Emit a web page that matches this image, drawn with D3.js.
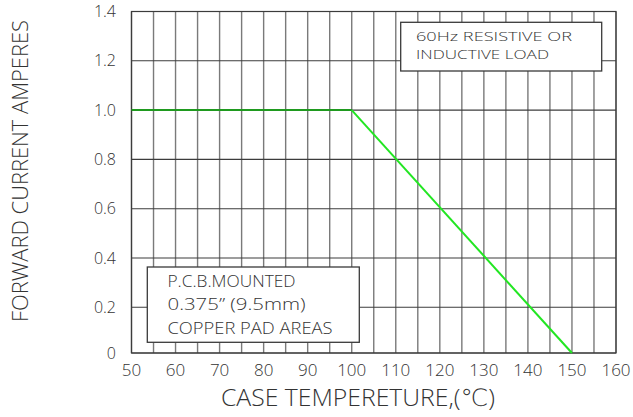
<!DOCTYPE html>
<html><head><meta charset="utf-8">
<script src="https://cdn.jsdelivr.net/npm/d3@7"></script>
<style>body{margin:0;background:#fff}svg{display:block}</style>
</head><body>
<svg id="c" width="633" height="417"></svg>
<script>
const xTicks = [50,60,70,80,90,100,110,120,130,140,150,160];
const xGrid = d3.range(50, 161, 5);
const yTicks = [0,0.2,0.4,0.6,0.8,1.0,1.2,1.4];
const yTickLabels = ["0","0.2","0.4","0.6","0.8","1.0","1.2","1.4"];
const curveTemp = [50, 100, 150];
const curveCurrent = [1.0, 1.0, 0];
const note1 = ["60Hz RESISTIVE OR","INDUCTIVE LOAD"];
const note2 = ["P.C.B.MOUNTED","0.375\u201D (9.5mm)","COPPER PAD AREAS"];
const xTitle = "CASE TEMPERETURE,(\u2103)";
const yTitle = "FORWARD CURRENT AMPERES";

const svg = d3.select("#c");
const x = d3.scaleLinear().domain([50,160]).range([131.5,616]);
const y = d3.scaleLinear().domain([0,0.2,1.4]).range([353,307.3,11.5]);
const font = "'Open Sans', 'DejaVu Sans', sans-serif";
const fw = 300;
const txt = "#333";

// vertical grid
svg.append("g").selectAll("line").data(xGrid).join("line")
  .attr("x1", d=>x(d)).attr("x2", d=>x(d)).attr("y1", y(1.4)).attr("y2", y(0))
  .attr("stroke", "#7a7a7a").attr("stroke-width", 1.4);
// horizontal grid
svg.append("g").selectAll("line").data(yTicks).join("line")
  .attr("x1", x(50)).attr("x2", x(160)).attr("y1", d=>y(d)).attr("y2", d=>y(d))
  .attr("stroke", "#3c3c3c").attr("stroke-width", 1.1);
// frame
svg.append("rect").attr("x", x(50)).attr("y", y(1.4))
  .attr("width", x(160)-x(50)).attr("height", y(0)-y(1.4))
  .attr("fill","none").attr("stroke","#3c3c3c").attr("stroke-width",1.2);

// curve
const pts = curveTemp.map((t,i)=>[t, curveCurrent[i]]);
const segColors = ["#1f9a1f", "#22e622"];
for (let i=0;i<pts.length-1;i++){
  svg.append("line")
    .attr("x1", x(pts[i][0])).attr("y1", y(pts[i][1]))
    .attr("x2", x(pts[i+1][0])).attr("y2", y(pts[i+1][1]))
    .attr("stroke", segColors[i]).attr("stroke-width", 2);
}

function T(sel, fs){
  return sel.attr("font-family",font).attr("font-weight",fw).attr("font-size",fs).attr("fill",txt);
}

// note boxes
function note(lines, bx, by, bw, bh, tx, ty, lh, fs, widths){
  svg.append("rect").attr("x",bx).attr("y",by).attr("width",bw).attr("height",bh)
    .attr("fill","#fff").attr("stroke","#3a3a3a").attr("stroke-width",1.3);
  lines.forEach((l,i)=>{
    T(svg.append("text").attr("x",tx).attr("y",ty+i*lh).text(l), fs)
      .attr("textLength", widths[i]).attr("lengthAdjust","spacingAndGlyphs");
  });
}
note(note1, 400.7, 22.3, 201, 48.7, 416, 40.5, 18.5, 13.5, [156, 133]);
note(note2, 147.3, 267, 212, 75.3, 167.5, 287, 23.3, 16, [128, 138, 165]);

// y tick labels
T(svg.append("g").selectAll("text").data(yTicks).join("text")
  .attr("x", 116).attr("y", d=>y(d)+5.5).attr("text-anchor","end")
  .text((d,i)=>yTickLabels[i]), 16);
// x tick labels
T(svg.append("g").selectAll("text").data(xTicks).join("text")
  .attr("x", d=>x(d)).attr("y", 376).attr("text-anchor","middle")
  .text(d=>d), 17);

// axis titles
T(svg.append("text").attr("x", 358).attr("y", 406).attr("text-anchor","middle")
  .text(xTitle), 24)
  .attr("textLength", 274).attr("lengthAdjust","spacingAndGlyphs");
T(svg.append("text").attr("transform","translate(28,171) rotate(-90)")
  .attr("text-anchor","middle").text(yTitle), 22)
  .attr("textLength", 302).attr("lengthAdjust","spacingAndGlyphs");
</script>
</body></html>
